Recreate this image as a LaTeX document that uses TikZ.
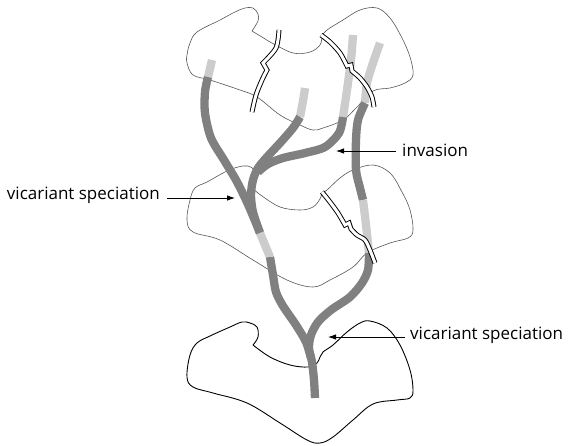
\documentclass[tikz,border=0pt]{standalone}
\usepackage{fontspec}
\setmainfont{Open Sans}
\usetikzlibrary{arrows.meta}
\definecolor{lindark}{HTML}{808080}
\definecolor{linlight}{HTML}{CCCCCC}
\definecolor{landgray}{HTML}{555555}
\begin{document}
\begin{tikzpicture}[x=1pt,y=-1pt,
  land/.style={draw=landgray, line width=0.6pt},
  landdark/.style={draw=black, line width=0.9pt},
  darkseg/.style={draw=lindark, line width=8.3pt},
  lightseg/.style={draw=linlight, line width=8.3pt},
  breakline/.style={draw=black, line width=0.95pt, double=white, double distance=3pt},
  lbl/.style={font=\fontsize{17}{20}\selectfont, inner sep=0pt},
  pointer/.style={-{Latex[length=8pt,width=5.5pt]}, line width=0.8pt}]
\useasboundingbox (0,0) rectangle (568,445);

% ---- landmasses ----
% top
\draw[land] plot[smooth, tension=0.6] coordinates {(252,31) (258,21) (258,14) (253,8) (245,8) (235,12) (220,20) (197,32) (190,43) (187,55) (187,63) (193,75) (210,80) (240,90) (257,97) (280,115) (300,125) (313,130) (323,128) (343,120) (357,107) (373,91) (390,88) (405,83) (413,75) (410,57) (402,38) (390,18) (377,8) (360,10) (343,20) (327,30) (322,36)}
  -- plot[smooth, tension=0.6] coordinates {(322,36) (320,45) (310,52) (293,53) (272,43) (262,37) (252,31)};
% middle
\draw[land] plot[smooth, tension=0.6] coordinates {(252,188) (255,178) (254,170) (248,166) (238,167) (225,172) (207,182) (195,188) (190,200) (187,220) (193,232) (220,240) (253,260) (287,280) (313,287) (330,280) (353,267) (367,253) (390,243) (408,238) (413,230) (410,210) (402,192) (390,173) (373,165) (353,170) (340,178) (327,190) (322,193)}
  -- plot[smooth, tension=0.6] coordinates {(322,193) (320,199) (313,207) (300,210) (280,207) (262,196) (252,188)};
% bottom
\draw[landdark] plot[smooth, tension=0.6] coordinates {(253,345) (258,337) (257,327) (250,323) (242,322) (230,327) (210,336) (197,343) (190,355) (187,377) (193,387) (213,393) (247,403) (280,423) (307,440) (320,443) (333,437) (353,420) (373,404) (397,400) (410,398) (413,390) (410,370) (400,345) (387,328) (370,321) (360,323) (347,332) (333,345) (323,352) (320,357) (317,363) (308,367) (290,365) (270,357) (253,345)};

% ---- lineages ----
% A
\draw[lightseg] plot[smooth] coordinates {(212,60) (208,77)};
\draw[darkseg] plot[smooth] coordinates {(208,77) (205,92) (205,113) (211,138) (224,160) (236,180) (246,200) (253,216) (260,233)};
% B
\draw[lightseg] plot[smooth] coordinates {(305,88) (303,101) (300,117)};
\draw[darkseg] plot[smooth] coordinates {(300,117) (293,128) (280,143) (267,157) (258,168) (253,180) (251,195) (253,212) (260,233)};
% C (invasion)
\draw[lightseg] plot[smooth] coordinates {(353,35) (351,60) (347,90) (343,117)};
\draw[darkseg] plot[smooth] coordinates {(343,117) (339,133) (325,147) (305,153) (283,158) (268,164) (258,172)};
% trunk of A/B
\draw[lightseg] plot[smooth] coordinates {(260,233) (265,245) (270,257)};
\draw[darkseg] plot[smooth] coordinates {(270,257) (273,275) (276,292) (283,306) (296,325) (306,342) (311,358)};
% D
\draw[lightseg] plot[smooth] coordinates {(380,43) (373,63) (367,83) (365,103)};
\draw[darkseg] plot[smooth] coordinates {(365,103) (358,120) (356,140) (356,170) (360,188) (363,200)};
\draw[lightseg] plot[smooth] coordinates {(363,200) (366,225) (369,253)};
\draw[darkseg] plot[smooth] coordinates {(369,253) (368,270) (362,283) (350,297) (331,310) (318,322) (311,335) (309,348) (312,362) (314,380) (315,398)};

% ---- barriers ----
\draw[breakline] plot[smooth] coordinates {(279,30) (276,48) (263,63)} -- (267,70) -- plot[smooth] coordinates {(267,70) (262,80) (256,95) (252,112)};
\draw[breakline] plot[smooth] coordinates {(321,35) (330,42) (340,53) (347,66)} -- (351,65) -- plot[smooth] coordinates {(352,71) (360,78) (367,87) (372,97) (374,107)};
\draw[breakline] plot[smooth] coordinates {(322,192) (330,202) (338,213) (345,225)} -- (349,223) -- plot[smooth] coordinates {(351,229) (357,235) (365,240) (370,250) (375,263)};

% ---- labels ----
\node[lbl, anchor=west] (inv) at (402,150) {invasion};
\coordinate (invtip) at (336,151);
\draw[pointer] (inv.west) ++(-6,1) coordinate (invtail) (invtail) -- (invtip);

\node[lbl, anchor=east] (vic1) at (160,195) {vicariant speciation};
\coordinate (vic1tip) at (235,198);
\draw[pointer] (vic1.east) ++(7,3) coordinate (vic1tail) (vic1tail) -- (vic1tip);

\node[lbl, anchor=west] (vic2) at (410,335) {vicariant speciation};
\coordinate (vic2tip) at (328,337);
\draw[pointer] (vic2.west) ++(-5,2) coordinate (vic2tail) (vic2tail) -- (vic2tip);
\end{tikzpicture}
\end{document}
